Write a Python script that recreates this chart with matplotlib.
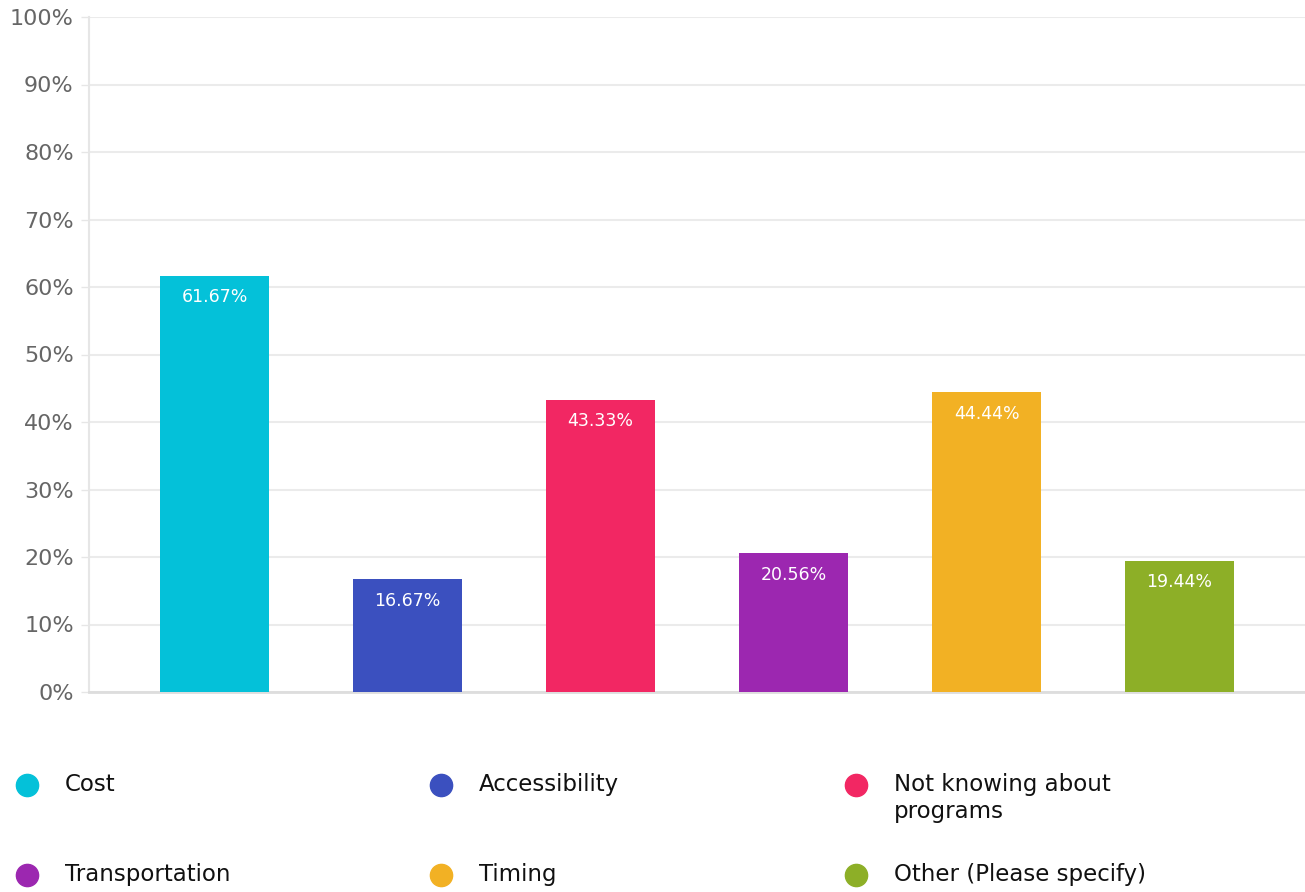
import matplotlib.pyplot as plt
from matplotlib.lines import Line2D
from matplotlib.ticker import FuncFormatter

plt.rcParams["font.family"] = ["DejaVu Sans"]

# categories and values (percent)
categories = ["Cost", "Accessibility", "Not knowing about\nprograms",
              "Transportation", "Timing", "Other (Please specify)"]
values = [61.67, 16.67, 43.33, 20.56, 44.44, 19.44]
colors = ["#04C1D9", "#3B50BF", "#F22763", "#9C27B0", "#F2B124", "#8DAF27"]
y_ticks = [0, 10, 20, 30, 40, 50, 60, 70, 80, 90, 100]

fig = plt.figure(figsize=(13.05, 8.92), dpi=100)
ax = fig.add_axes([89 / 1305, 1 - 692 / 892, 1 - 89 / 1305, 675 / 892])

x = list(range(len(values)))
bars = ax.bar(x, values, width=0.56, color=colors, zorder=3)

# value labels inside the bar tops
for xi, v in zip(x, values):
    ax.annotate(f"{v:.2f}%", (xi, v), xytext=(0, -15.5), textcoords="offset points",
                ha="center", va="center", color="white", fontsize=12.5)

ax.set_xlim(-0.65, 5.65)
ax.set_ylim(0, 100)
ax.set_yticks(y_ticks)
ax.yaxis.set_major_formatter(FuncFormatter(lambda v, p: f"{v:.0f}%"))
ax.set_xticks([])
ax.tick_params(axis="y", length=6, width=1, color="#e6e6e6",
               labelsize=16, labelcolor="#666666", pad=5)
ax.grid(axis="y", color="#ebebeb", linewidth=1.5, zorder=0)

for s in ["top", "right"]:
    ax.spines[s].set_visible(False)
ax.spines["left"].set_color("#e6e6e6")
ax.spines["left"].set_linewidth(1.5)
ax.spines["bottom"].set_color("#dddddd")
ax.spines["bottom"].set_linewidth(2)

# legend drawn by hand: 3 columns, 2 rows
col_x = [27, 441, 856]
row_y = [785, 875]
for i, (lab, c) in enumerate(zip(categories, colors)):
    px = col_x[i % 3]
    py = row_y[i // 3]
    fig.add_artist(Line2D([px / 1305], [1 - py / 892], marker="o", markersize=16,
                          color=c, linestyle="none", transform=fig.transFigure))
    fig.text((px + 38) / 1305, 1 - (py - 12) / 892, lab, ha="left", va="top",
             fontsize=16.5, color="#111111")

fig.savefig("out.png", dpi=100)
